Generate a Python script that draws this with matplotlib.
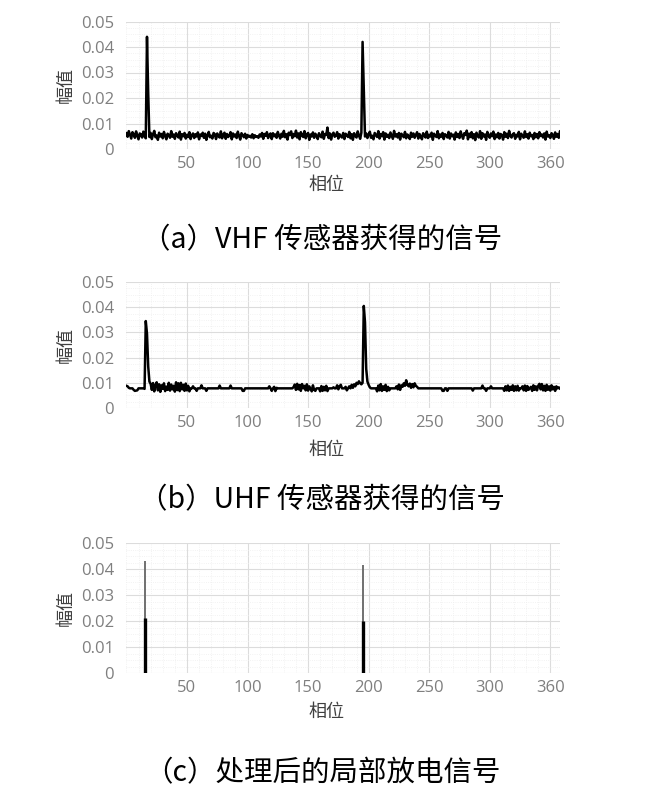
import matplotlib
matplotlib.use("Agg")
import matplotlib.pyplot as plt
from matplotlib.ticker import MultipleLocator
import numpy as np

plt.rcParams['font.family'] = ['Open Sans', 'Noto Sans CJK SC', 'DejaVu Sans']

# phase axis, one sample per degree
phase = np.arange(0, 360)

# VHF sensor signal (units of 0.0001)
vhf = [62, 48, 70, 55, 41, 66, 58, 44, 69, 52, 38, 61, 57, 45, 68, 50, 42, 440, 220, 47,
       63, 39, 58, 71, 46, 53, 36, 64, 49, 59, 42, 67, 51, 38, 60, 55, 44, 70, 48, 57,
       40, 62, 53, 45, 68, 37, 58, 50, 63, 41, 56, 47, 66, 39, 54, 61, 43, 58, 49, 65,
       38, 57, 51, 64, 44, 60, 36, 55, 67, 46, 52, 41, 63, 58, 39, 61, 50, 45, 69, 42,
       56, 64, 40, 59, 47, 53, 66, 38, 61, 49, 57, 43, 68, 51, 37, 62, 54, 46, 60, 41,
       55, 48, 52, 45, 58, 42, 54, 47, 50, 44, 57, 49, 63, 40, 59, 52, 66, 43, 56, 61,
       39, 62, 50, 57, 44, 67, 53, 41, 60, 48, 71, 46, 58, 37, 64, 55, 69, 43, 59, 50,
       72, 45, 61, 38, 66, 54, 47, 70, 42, 58, 63, 36, 57, 49, 65, 44, 60, 52, 39, 62,
       51, 46, 68, 40, 59, 55, 84, 43, 61, 37, 57, 64, 48, 53, 66, 41, 58, 50, 45, 63,
       39, 60, 54, 47, 67, 42, 58, 36, 62, 51, 45, 69, 53, 40, 64, 420, 230, 49, 61, 43,
       57, 68, 44, 52, 38, 63, 55, 47, 70, 41, 59, 50, 66, 37, 61, 48, 56, 43, 65, 52,
       40, 71, 49, 58, 45, 63, 37, 60, 54, 46, 67, 42, 57, 51, 39, 64, 48, 61, 44, 55,
       66, 41, 59, 50, 38, 62, 53, 45, 68, 43, 56, 49, 64, 36, 60, 52, 47, 70, 42, 57,
       48, 63, 39, 58, 54, 45, 67, 41, 61, 50, 56, 37, 65, 47, 59, 43, 69, 52, 40, 62,
       55, 72, 38, 60, 47, 66, 42, 58, 35, 64, 51, 45, 70, 40, 62, 49, 57, 36, 67, 53,
       44, 61, 50, 68, 39, 57, 46, 63, 41, 59, 54, 37, 66, 48, 60, 43, 71, 51, 45, 58,
       62, 40, 56, 49, 67, 38, 60, 52, 44, 69, 47, 58, 41, 64, 50, 55, 39, 63, 46, 59,
       42, 66, 51, 57, 45, 61, 37, 68, 49, 54, 43, 62, 56, 40, 65, 48, 59, 44, 70, 53]

# UHF sensor signal (units of 0.0001)
uhf = [88, 86, 80, 78, 78, 78, 72, 68, 69, 70, 78, 78, 78, 78, 78, 76, 345, 295, 165, 105,
       96, 72, 99, 66, 88, 102, 70, 94, 64, 90, 76, 98, 67, 85, 72, 100, 69, 93, 74, 88,
       65, 102, 71, 98, 67, 100, 74, 92, 68, 97, 70, 88, 66, 78, 78, 86, 78, 78, 68, 78,
       78, 78, 90, 78, 78, 78, 68, 78, 78, 78, 78, 78, 78, 78, 78, 78, 78, 89, 78, 78,
       78, 78, 78, 78, 78, 78, 89, 78, 78, 78, 78, 78, 78, 78, 78, 78, 68, 68, 78, 78,
       78, 78, 78, 78, 78, 78, 78, 78, 78, 78, 78, 78, 78, 78, 78, 78, 78, 78, 86, 78,
       68, 78, 84, 67, 80, 78, 78, 78, 78, 78, 78, 78, 78, 78, 78, 78, 78, 78, 83, 93,
       72, 96, 74, 91, 68, 95, 78, 88, 70, 94, 69, 86, 76, 66, 90, 72, 68, 78, 78, 78,
       66, 87, 68, 84, 70, 88, 67, 78, 78, 78, 78, 82, 78, 78, 90, 74, 86, 92, 78, 78,
       78, 84, 70, 78, 86, 78, 92, 80, 94, 86, 100, 95, 106, 98, 94, 100, 405, 340, 155, 105,
       92, 82, 78, 78, 78, 78, 78, 66, 89, 70, 95, 68, 86, 72, 92, 67, 84, 70, 78, 78,
       78, 78, 78, 86, 74, 93, 72, 90, 84, 98, 88, 110, 92, 86, 97, 80, 95, 82, 98, 88,
       84, 78, 78, 78, 78, 78, 78, 78, 78, 78, 78, 78, 78, 78, 78, 78, 78, 78, 78, 78,
       78, 68, 68, 78, 78, 68, 78, 78, 78, 78, 78, 78, 78, 78, 78, 78, 78, 78, 78, 78,
       78, 78, 78, 78, 78, 78, 69, 78, 78, 78, 78, 78, 78, 78, 89, 78, 78, 68, 78, 78,
       78, 86, 78, 78, 78, 78, 78, 78, 78, 78, 78, 78, 68, 86, 70, 89, 68, 84, 72, 90,
       68, 86, 70, 88, 69, 78, 78, 86, 70, 89, 68, 87, 72, 78, 84, 68, 90, 72, 86, 70,
       88, 96, 74, 95, 70, 88, 68, 92, 72, 86, 69, 90, 74, 84, 68, 86, 78, 82, 76, 80]

# processed partial discharge signal
pd_phase = [15, 195]
pd_peak = [0.043, 0.0415]
pd_half = [0.021, 0.020]

xtick_pos = [50, 100, 150, 200, 250, 300, 350]
xtick_lab = ['50', '100', '150', '200', '250', '300', '360']
yticks = [0, 0.01, 0.02, 0.03, 0.04, 0.05]
ytick_lab = ['0', '0.01', '0.02', '0.03', '0.04', '0.05']

captions = ['（a）VHF 传感器获得的信号', '（b）UHF 传感器获得的信号', '（c）处理后的局部放电信号']

W, H = 645, 793
fig = plt.figure(figsize=(6.45, 7.93), dpi=100)

# pixel boxes: left, top, right, bottom
boxes = [(126.4, 21.5, 560, 149), (126.4, 282, 560, 408), (126.4, 543, 560, 673)]
xlab_y = [185, 450, 712]
ylab_y = [85, 345, 608]
cap_y = [240, 500, 773]

axes = []
for (l, t, r, b) in boxes:
    ax = fig.add_axes([l / W, 1 - b / H, (r - l) / W, (b - t) / H])
    axes.append(ax)

axes[0].plot(phase, np.array(vhf) / 10000, color='black', lw=1.8)
axes[1].plot(phase, np.array(uhf) / 10000, color='black', lw=1.8)
axes[2].vlines(pd_phase, 0, pd_peak, color='#707070', lw=1.4)
axes[2].vlines(pd_phase, 0, pd_half, color='black', lw=2.4)

for i, ax in enumerate(axes):
    ax.set_xlim(0, 358)
    ax.set_ylim(0, 0.05)
    ax.set_xticks(xtick_pos)
    ax.set_xticklabels(xtick_lab)
    ax.set_yticks(yticks)
    ax.set_yticklabels(ytick_lab)
    ax.xaxis.set_minor_locator(MultipleLocator(10))
    ax.yaxis.set_minor_locator(MultipleLocator(0.0025))
    ax.grid(True, which='major', color='#dcdcdc', lw=0.8)
    ax.grid(True, which='minor', color='#eeeeee', lw=0.6, ls=':')
    ax.set_axisbelow(True)
    for s in ax.spines.values():
        s.set_visible(False)
    ax.tick_params(which='both', length=0)
    ax.tick_params(axis='x', pad=5, labelsize=12, labelcolor='#7f7f7f')
    ax.tick_params(axis='y', pad=9, labelsize=12, labelcolor='#7f7f7f')
    fig.text(326 / W, 1 - xlab_y[i] / H, '相位', ha='center', va='center',
             fontsize=13, color='#404040', family=['Noto Sans CJK SC', 'DejaVu Sans'])
    fig.text(66 / W, 1 - ylab_y[i] / H, '幅值', ha='center', va='center', rotation=90,
             fontsize=13, color='#404040', family=['Noto Sans CJK SC', 'DejaVu Sans'])
    fig.text(322 / W, 1 - cap_y[i] / H, captions[i], ha='center', va='center',
             fontsize=20.5, color='black', family=['Noto Sans CJK SC', 'DejaVu Sans'])

fig.savefig('out.png', dpi=100, facecolor='white')
